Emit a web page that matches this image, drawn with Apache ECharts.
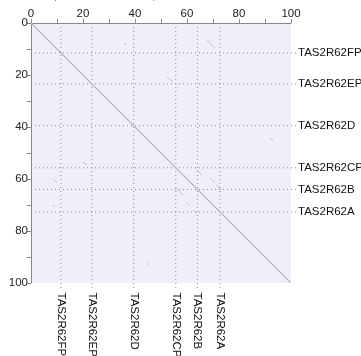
<!DOCTYPE html>
<html>
<head>
<meta charset="utf-8">
<script src="https://cdn.jsdelivr.net/npm/echarts@6/dist/echarts.min.js"></script>
<style>html,body{margin:0;padding:0;background:#fff}#c{width:361px;height:356px}</style>
</head>
<body>
<div id="c"></div>
<script>
// Gene boundary positions (same on both axes) and their labels
var genePositions = [11.5, 23.4, 39.5, 55.7, 64.0, 72.7];
var geneNames = ['TAS2R62FP', 'TAS2R62EP', 'TAS2R62D', 'TAS2R62CP', 'TAS2R62B', 'TAS2R62A'];
// Main self-alignment diagonal [x1, y1, x2, y2]
var mainDiagonal = [[0, 0, 100, 100]];
// Short off-diagonal matches [x1, y1, x2, y2]
var offDiagonal = [
  [35.8, 7.7, 36.6, 8.5],
  [67.7, 6.5, 70.8, 9.6],
  [63.8, 56.5, 65.8, 58.6],
  [68.8, 59.6, 70.8, 61.5],
  [71.5, 62.3, 73.1, 64.2],
  [55.8, 63.5, 58.5, 66.2],
  [60.0, 69.2, 61.2, 70.4],
  [62.3, 71.9, 63.8, 73.1],
  [8.5, 60.0, 10.0, 61.5],
  [8.5, 70.0, 9.2, 70.8],
  [20.0, 53.5, 21.5, 54.6],
  [91.9, 44.2, 93.1, 45.4],
  [44.6, 92.3, 45.1, 93.1],
  [52.3, 20.8, 54.6, 22.7]
];
var axisTicks = [0, 20, 40, 60, 80, 100];

var chart = echarts.init(document.getElementById('c'), null, {renderer: 'canvas'});
var font = 'Liberation Sans, Arial, sans-serif';

function segRender(color, width) {
  return function (params, api) {
    var p1 = api.coord([api.value(0), api.value(1)]);
    var p2 = api.coord([api.value(2), api.value(3)]);
    return {
      type: 'line',
      shape: {x1: p1[0], y1: p1[1], x2: p2[0], y2: p2[1]},
      style: {stroke: color, lineWidth: width}
    };
  };
}

var option = {
  animation: false,
  graphic: [{
    type: 'text', left: 34, top: -10,
    style: {text: 'Dot plot of TAS2R62 sequences', fill: '#888', font: '11px ' + font}
  }],
  grid: {left: 31, top: 23, width: 260, height: 260, show: true,
         backgroundColor: '#EFEFFC', borderWidth: 0},
  xAxis: {
    type: 'value', position: 'top', min: 0, max: 100, interval: 10,
    axisLine: {show: true, lineStyle: {color: '#888', width: 1}},
    axisTick: {show: true, length: 4, lineStyle: {color: '#888'}},
    axisLabel: {
      margin: 3, color: '#222', fontSize: 11.5, fontFamily: font,
      formatter: function (v) { return axisTicks.indexOf(v) >= 0 ? String(v) : ''; }
    },
    splitLine: {show: false}
  },
  yAxis: {
    type: 'value', inverse: true, min: 0, max: 100, interval: 10,
    axisLine: {show: true, lineStyle: {color: '#888', width: 1}},
    axisTick: {show: true, length: 4, lineStyle: {color: '#888'}},
    axisLabel: {
      margin: 3, color: '#222', fontSize: 11.5, fontFamily: font,
      formatter: function (v) { return axisTicks.indexOf(v) >= 0 ? String(v) : ''; }
    },
    splitLine: {show: false}
  },
  series: [
    {
      type: 'custom', clip: false, silent: true,
      data: genePositions.map(function (p, i) { return [p, i]; }),
      renderItem: function (params, api) {
        var p = api.value(0);
        var name = geneNames[api.value(1)];
        var h0 = api.coord([0, p]);
        var h1 = api.coord([102.3, p]);
        var v0 = api.coord([p, 0]);
        var v1 = api.coord([p, 102.5]);
        var dash = {stroke: '#8a8a8a', lineWidth: 1, lineDash: [1, 3]};
        return {
          type: 'group',
          children: [
            {type: 'line', shape: {x1: h0[0], y1: h0[1], x2: h1[0], y2: h1[1]}, style: dash},
            {type: 'line', shape: {x1: v0[0], y1: v0[1], x2: v1[0], y2: v1[1]}, style: dash},
            {type: 'text', x: h1[0] + 1, y: h1[1],
             style: {text: name, fill: '#111', font: '11.5px ' + font, align: 'left', verticalAlign: 'middle'}},
            {type: 'text', x: v1[0], y: v1[1] + 3, rotation: -Math.PI / 2,
             style: {text: name, fill: '#111', font: '11.5px ' + font, align: 'left', verticalAlign: 'middle'}}
          ]
        };
      }
    },
    {
      type: 'custom', clip: true, silent: true,
      data: offDiagonal,
      renderItem: segRender('#c0c0d2', 1)
    },
    {
      type: 'custom', clip: true, silent: true,
      data: mainDiagonal,
      renderItem: segRender('#b8b8c8', 1.3)
    }
  ]
};
chart.setOption(option);
</script>
</body>
</html>
